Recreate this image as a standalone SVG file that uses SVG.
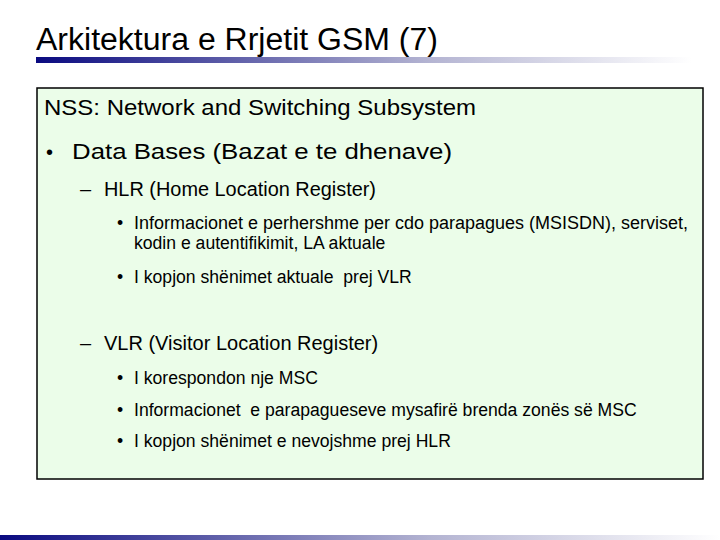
<svg xmlns="http://www.w3.org/2000/svg" width="720" height="540" viewBox="0 0 720 540">
<defs>
<linearGradient id="g" x1="0" x2="1" y1="0" y2="0"><stop offset="0" stop-color="#0a0a80"/><stop offset="0.6" stop-color="#b4b4d2"/><stop offset="1" stop-color="#ffffff"/></linearGradient>
</defs>
<style>text{font-family:"Liberation Sans",Arial,sans-serif;fill:#000}.l1{font-size:22px}.l2{font-size:20px}.l3{font-size:17.6px}</style>
<rect width="720" height="540" fill="#fff"/>
<text x="36" y="50" font-size="31" textLength="402" lengthAdjust="spacingAndGlyphs">Arkitektura e Rrjetit GSM (7)</text>
<rect x="36" y="57" width="656" height="6" fill="url(#g)"/>
<rect x="0" y="535" width="720" height="5" fill="url(#g)"/>
<g id="box">
<rect x="37" y="88" width="666" height="391" fill="#ebfde9" stroke="#000" stroke-width="1.5"/>
<text x="44" y="115" class="l1" textLength="432" lengthAdjust="spacingAndGlyphs">NSS: Network and Switching Subsystem</text>
<text x="46" y="159" class="l2">•</text>
<text x="72" y="159" class="l1" textLength="380" lengthAdjust="spacingAndGlyphs">Data Bases (Bazat e te dhenave)</text>
<text x="80" y="196" class="l2">–</text>
<text x="104" y="196" class="l2" textLength="272" lengthAdjust="spacingAndGlyphs">HLR (Home Location Register)</text>
<text x="117" y="229" class="l3">•</text>
<text x="134" y="229" class="l3" textLength="554" lengthAdjust="spacingAndGlyphs">Informacionet e perhershme per cdo parapagues (MSISDN), serviset,</text>
<text x="134" y="249" class="l3">kodin e autentifikimit, LA aktuale</text>
<text x="117" y="283" class="l3">•</text>
<text x="134" y="283" class="l3" xml:space="preserve">I kopjon shënimet aktuale  prej VLR</text>
<text x="80" y="350" class="l2">–</text>
<text x="104" y="350" class="l2">VLR (Visitor Location Register)</text>
<text x="117" y="384" class="l3">•</text>
<text x="134" y="384" class="l3">I korespondon nje MSC</text>
<text x="117" y="416" class="l3">•</text>
<text x="134" y="416" class="l3" xml:space="preserve">Informacionet  e parapagueseve mysafirë brenda zonës së MSC</text>
<text x="117" y="447" class="l3">•</text>
<text x="134" y="447" class="l3">I kopjon shënimet e nevojshme prej HLR</text>
</g>
</svg>
